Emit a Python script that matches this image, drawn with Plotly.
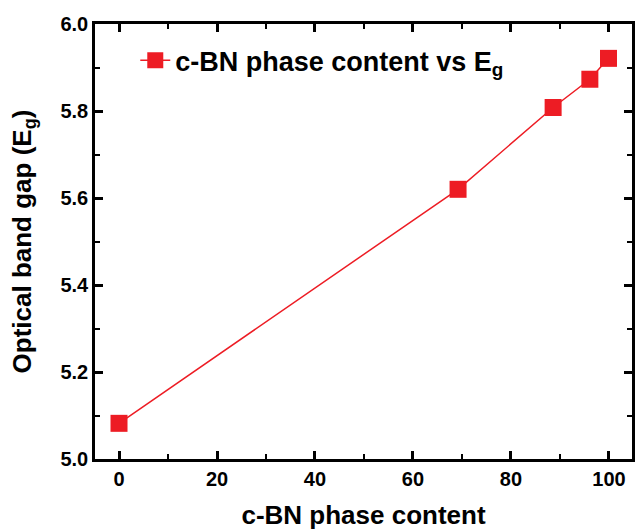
import plotly.graph_objects as go

cbn_content = [0, 69.2, 88.6, 96.1, 99.9]
band_gap = [5.082, 5.62, 5.808, 5.873, 5.921]

x_ticks = [0, 20, 40, 60, 80, 100]
y_ticks = [5.0, 5.2, 5.4, 5.6, 5.8, 6.0]

red = "#ED1C24"
font_family = "Liberation Sans, Arial, sans-serif"

fig = go.Figure()
fig.add_trace(go.Scatter(
    x=cbn_content, y=band_gap, mode="lines+markers",
    name="c-BN phase content vs E<sub>g</sub>",
    line=dict(color=red, width=1.5),
    marker=dict(symbol="square", size=17, color=red),
))

axis_common = dict(
    showline=True, linecolor="black", linewidth=2.5, mirror="ticks",
    ticks="inside", ticklen=8, tickwidth=2.5, tickcolor="black",
    showgrid=False, zeroline=False,
    tickfont=dict(family=font_family, size=20, color="black", weight="bold"),
)

fig.update_xaxes(
    range=[-4.9, 104.7], tickvals=x_ticks, ticktext=[str(v) for v in x_ticks],
    minor=dict(ticks="inside", ticklen=5, tickwidth=2, tickcolor="black", dtick=10, tick0=0),
    title=dict(text="c-BN phase content", standoff=18,
               font=dict(family=font_family, size=26, color="black", weight="bold")),
    **axis_common,
)
fig.update_yaxes(
    range=[5.0, 6.0], tickvals=y_ticks, ticktext=[f"{v:.1f}" for v in y_ticks],
    minor=dict(ticks="inside", ticklen=5, tickwidth=2, tickcolor="black", dtick=0.1, tick0=5.0),
    title=dict(text="Optical band gap (E<sub>g</sub>)", standoff=22,
               font=dict(family=font_family, size=26, color="black", weight="bold")),
    **axis_common,
)

fig.update_layout(
    width=636, height=531,
    margin=dict(l=95, r=1, t=24, b=72),
    paper_bgcolor="white", plot_bgcolor="white",
    showlegend=True,
    legend=dict(x=0.075, y=0.972, xanchor="left", yanchor="top",
                bgcolor="rgba(0,0,0,0)",
                font=dict(family=font_family, size=27, color="black", weight="bold")),
)

fig.write_html("out.html", config={"displayModeBar": False},
               post_script="document.body.style.margin='0';document.body.style.overflow='hidden';")
